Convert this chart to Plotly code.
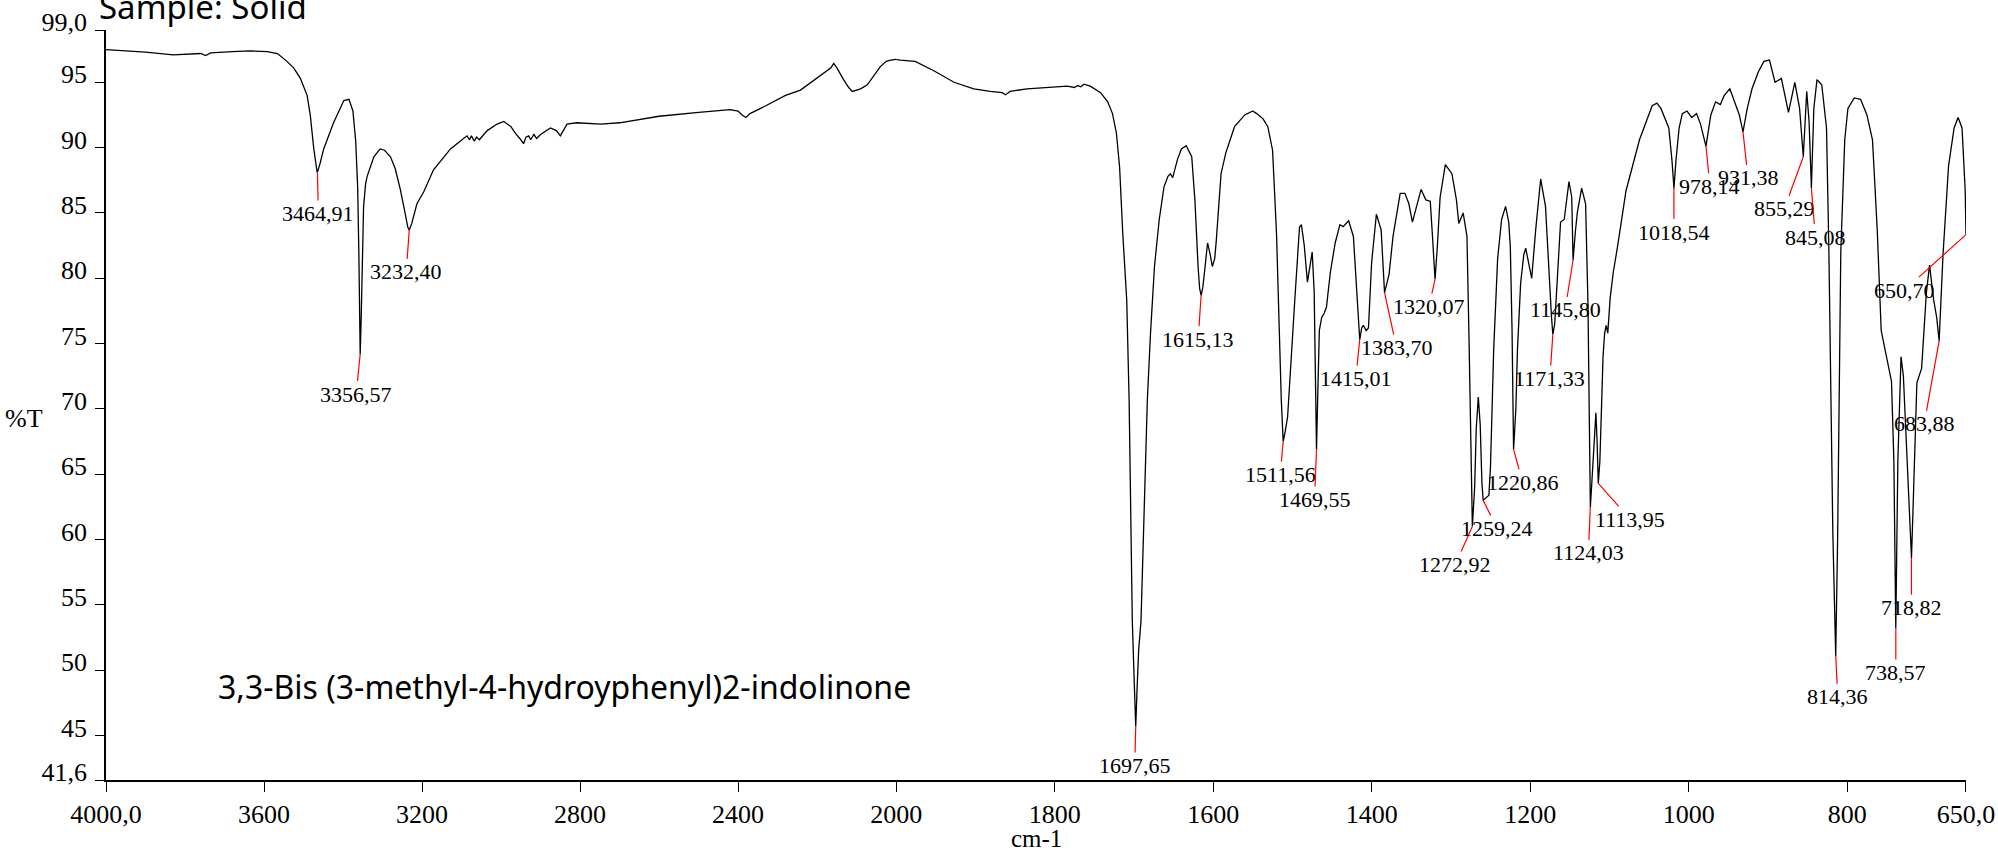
import plotly.graph_objects as go

# ---- spectrum, high-wavenumber part (4000 -> 2000 cm-1) ----
wn_hi = [4000, 3900, 3830, 3760, 3748, 3735, 3680, 3635, 3592, 3566, 3542, 3525, 3508, 3491,
         3483, 3474, 3466, 3464.9, 3458, 3449, 3424, 3398, 3385, 3375, 3368, 3363, 3360,
         3357.5, 3356.6, 3354, 3351, 3348, 3343, 3339, 3322, 3306, 3295, 3280, 3268, 3255,
         3243, 3236, 3232.4, 3226, 3213, 3205, 3196, 3171, 3150, 3128, 3095, 3086, 3080,
         3075, 3068, 3062, 3055, 3035, 3010, 2993, 2975, 2964, 2950, 2943, 2937, 2930, 2925,
         2917, 2910, 2900, 2875, 2860, 2850, 2840, 2833, 2808, 2748, 2700, 2600, 2500, 2420,
         2400, 2390, 2380, 2370, 2330, 2280, 2242, 2200, 2175, 2165, 2158, 2150, 2133, 2120,
         2111, 2100, 2090, 2073, 2055, 2040, 2025, 2014, 2000]
t_hi = [97.5, 97.3, 97.1, 97.2, 97.05, 97.25, 97.35, 97.4, 97.35, 97.2, 96.6, 96.1, 95.3, 94.0,
        92.5, 89.9, 88.2, 88.1, 88.8, 89.9, 91.9, 93.6, 93.7, 92.8, 90.5, 87.0, 82.0,
        76.0, 74.2, 77.0, 82.0, 85.5, 87.2, 87.8, 89.3, 89.9, 89.8, 89.3, 88.4, 86.8,
        85.0, 83.9, 83.7, 84.2, 85.7, 86.1, 86.6, 88.3, 89.1, 89.9, 90.7, 90.9, 90.6,
        90.9, 90.5, 90.8, 90.6, 91.3, 91.8, 92.0, 91.6, 91.1, 90.6, 90.3, 90.8, 90.9, 90.6,
        91.0, 90.7, 91.0, 91.5, 91.3, 90.9, 91.5, 91.8, 91.9, 91.8, 91.9, 92.4, 92.7, 92.9,
        92.8, 92.5, 92.3, 92.6, 93.2, 94.0, 94.4, 95.3, 95.9, 96.1, 96.45, 96.1, 95.2, 94.6,
        94.3, 94.4, 94.5, 94.8, 95.6, 96.2, 96.6, 96.7, 96.75]

# ---- spectrum, low-wavenumber part (2000 -> 650 cm-1) ----
wn_lo = [2000, 1995, 1976, 1953, 1927, 1902, 1881, 1866, 1862, 1856, 1835, 1800, 1784, 1775,
         1771, 1767, 1763, 1755, 1750, 1742, 1733, 1727, 1722, 1718, 1714, 1709, 1706, 1702,
         1699.5, 1697.65, 1696, 1694, 1691, 1687, 1683, 1679, 1674, 1668, 1662, 1657, 1654,
         1651, 1645, 1640, 1634, 1627, 1623, 1619, 1617, 1615.1, 1613, 1611, 1607, 1604, 1601,
         1598, 1596, 1590, 1584, 1573, 1560, 1550, 1545, 1537, 1531, 1525, 1520, 1514, 1511.6,
         1509, 1506, 1497, 1491, 1488.6, 1485, 1481, 1478, 1475, 1472.5, 1471, 1469.55, 1468,
         1466, 1463, 1460, 1457, 1452, 1446, 1440, 1436, 1429, 1423, 1418, 1416, 1415, 1412.5,
         1410.5, 1407, 1404, 1400, 1394, 1388, 1385.5, 1383.7, 1380, 1378, 1373, 1364, 1358,
         1353, 1348.5, 1343, 1337.6, 1331.6, 1326, 1323, 1320, 1317, 1313.6, 1307, 1298.7,
         1293, 1290, 1284.5, 1279.7, 1277, 1275, 1272.9, 1270, 1268, 1265.4, 1263, 1260.8,
         1259.2, 1252, 1250, 1246, 1241, 1236, 1231, 1227, 1225, 1222.8, 1220.9, 1218, 1216,
         1212, 1208, 1205.6, 1201, 1198, 1193, 1186.7, 1180.6, 1176, 1173, 1171.3, 1169, 1166,
         1161.6, 1157, 1151, 1147.5, 1145.8, 1143, 1140.5, 1135, 1130, 1127, 1125, 1124, 1122,
         1119, 1117, 1115.5, 1114, 1112, 1110, 1108, 1106, 1104, 1102, 1099, 1095, 1090, 1079,
         1062, 1046, 1040, 1035, 1025, 1021, 1018.5, 1016, 1012, 1008, 1002, 996, 990, 985,
         978.1, 972, 966, 960, 955, 948, 942, 936, 931.4, 926, 920, 912, 905, 898, 891, 883,
         874, 866, 860, 855.3, 851, 848, 845.1, 842, 838, 832, 826, 823, 818, 814.4, 812, 808,
         803, 799, 791, 783, 775, 768, 762, 757, 751, 744, 741, 738.6, 736, 732, 729, 724,
         718.8, 717, 712, 706, 700, 696, 691, 687, 683.9, 679, 672, 665, 660, 655, 651, 650]
t_lo = [96.75, 96.7, 96.6, 95.9, 95.0, 94.5, 94.3, 94.2, 94.05, 94.3, 94.5, 94.65, 94.7, 94.6,
        94.75, 94.65, 94.85, 94.7, 94.5, 94.2, 93.5, 92.6, 91.1, 88.5, 83.4, 78.3, 70.7, 53.8,
        49.0, 45.7, 48.5, 51.5, 53.8, 63.0, 70.7, 75.8, 80.9, 84.5, 87.0, 87.8, 88.0,
        87.7, 89.1, 89.9, 90.15, 89.3, 86.0, 80.9, 79.2, 78.7, 79.3, 80.4, 82.7, 81.9, 80.9,
        81.5, 82.9, 88.0, 89.6, 91.6, 92.5, 92.8, 92.6, 92.2, 91.6, 89.8, 83.4, 70.7, 67.5,
        68.3, 69.4, 78.3, 83.9, 84.1, 82.5, 79.7, 80.8, 82.0, 79.0, 74.0, 66.9, 71.0,
        76.0, 77.0, 77.3, 77.8, 80.5, 82.7, 84.1, 83.95, 84.4, 83.2, 78.6, 76.0, 75.3, 76.2,
        76.4, 76.0, 76.2, 81.2, 84.9, 83.7, 80.5, 78.9, 79.8, 80.3, 83.2, 86.5, 86.5,
        85.7, 84.3, 85.6, 86.8, 86.0, 85.9, 83.0, 79.9, 82.5, 86.2, 88.7, 88.0,
        86.0, 84.2, 85.0, 83.2, 75.0, 67.0, 61.0, 64.0, 68.5, 70.9, 68.8, 64.3,
        63.0, 63.4, 65.6, 74.5, 81.5, 84.5, 85.5, 84.3, 82.4, 76.0, 66.9, 70.0, 74.5,
        79.6, 81.8, 82.3, 81.0, 80.0, 83.7, 87.6, 85.5, 79.9, 77.0, 75.7, 76.5, 79.6,
        84.3, 84.5, 87.4, 86.2, 81.4, 83.5, 85.0, 86.9, 85.7, 78.0, 68.0, 62.5, 64.5,
        68.0, 69.7, 67.5, 64.3, 66.0, 70.0, 74.0, 75.8, 76.4, 75.8, 78.5, 80.5, 82.3, 86.7,
        90.6, 93.2, 93.4, 93.0, 91.5, 89.0, 86.9, 89.0, 91.5, 92.6, 92.8, 92.3, 92.6, 91.8,
        90.1, 92.5, 93.5, 93.3, 94.0, 94.5, 93.5, 92.5, 91.2, 93.0, 94.5, 95.8, 96.6, 96.7, 95.0, 95.3,
        92.7, 95.0, 93.0, 89.3, 94.3, 92.0, 86.9, 93.0, 95.2, 94.8, 91.5, 82.0, 60.4, 51.1, 60.0, 82.0,
        90.6, 93.0, 93.8, 93.7, 92.5, 90.6, 83.7, 76.0, 74.2, 72.1, 66.0, 53.2, 66.0, 74.0, 72.5, 66.0,
        58.6, 62.0, 72.0, 73.1, 78.9, 81.0, 78.4, 77.0, 75.2, 81.8, 88.6, 91.5, 92.3, 91.5, 86.7, 83.3]

# ---- labelled peaks ----
peak_wn = [3464.91, 3356.57, 3232.40, 1697.65, 1615.13, 1511.56, 1469.55, 1415.01, 1383.70,
           1320.07, 1272.92, 1259.24, 1220.86, 1171.33, 1145.80, 1124.03, 1113.95, 1018.54,
           978.14, 931.38, 855.29, 845.08, 814.36, 738.57, 718.82, 683.88, 650.70]
peak_t = [88.1, 74.2, 83.7, 45.7, 78.7, 67.5, 66.9, 75.3, 78.9,
          79.9, 61.0, 63.0, 66.9, 75.7, 81.4, 62.5, 64.3, 86.9,
          90.1, 91.2, 89.3, 86.9, 51.1, 53.2, 58.6, 75.2, 83.3]
peak_text = ["3464,91", "3356,57", "3232,40", "1697,65", "1615,13", "1511,56", "1469,55",
             "1415,01", "1383,70", "1320,07", "1272,92", "1259,24", "1220,86", "1171,33",
             "1145,80", "1124,03", "1113,95", "1018,54", "978,14", "931,38", "855,29",
             "845,08", "814,36", "738,57", "718,82", "683,88", "650,70"]
label_dx = [1, -4, -3, -1, -3, -3, -2, -4, 12, -6, -17, 14, 9, -3, -8, -2, 32, 0, 4, 5, -19, 4, 2, 0, 0, -15, -61]
label_dy = [41, 40, 42, 39, 44, 33, 50, 39, 55, 27, 38, 28, 33, 44, 50, 46, 36, 44, 40, 46, 52, 49, 41, 44, 50, 83, 55]

# ---- axes ----
xtick_hi = [4000, 3600, 3200, 2800, 2400]
xtick_hi_text = ["4000,0", "3600", "3200", "2800", "2400"]
xtick_lo = [2000, 1800, 1600, 1400, 1200, 1000, 800, 650]
xtick_lo_text = ["2000", "1800", "1600", "1400", "1200", "1000", "800", "650,0"]
ytick_vals = [41.6, 45, 50, 55, 60, 65, 70, 75, 80, 85, 90, 95, 99.0]
ytick_text = ["41,6", "45", "50", "55", "60", "65", "70", "75", "80", "85", "90", "95", "99,0"]

SERIF = "Liberation Serif"
SPLIT = 0.4248

fig = go.Figure()
fig.add_trace(go.Scatter(x=wn_hi, y=t_hi, mode="lines", line=dict(color="black", width=1.3),
                         xaxis="x", yaxis="y", hoverinfo="skip", showlegend=False))
fig.add_trace(go.Scatter(x=wn_lo, y=t_lo, mode="lines", line=dict(color="black", width=1.3),
                         xaxis="x2", yaxis="y", hoverinfo="skip", showlegend=False))

annotations = []
for w, t, s, dx, dy in zip(peak_wn, peak_t, peak_text, label_dx, label_dy):
    annotations.append(dict(
        x=w, y=t, xref="x" if w > 2000 else "x2", yref="y", text=s,
        showarrow=True, arrowhead=0, arrowwidth=1.2, arrowcolor="#ff0000",
        ax=dx, ay=dy, standoff=0, borderpad=0,
        font=dict(family=SERIF, size=22, color="black")))

annotations += [
    dict(text="%T", xref="paper", yref="paper", x=-0.044, y=0.482, xanchor="center",
         yanchor="middle", showarrow=False,
         font=dict(family=SERIF, size=26, color="black")),
    dict(text="cm-1", xref="paper", yref="paper", x=0.5, y=-0.078, xanchor="center",
         yanchor="middle", showarrow=False,
         font=dict(family=SERIF, size=25, color="black")),
    dict(text="Sample: Solid", xref="paper", yref="paper", x=-0.005, y=0.998,
         xanchor="left", yanchor="bottom", showarrow=False,
         font=dict(family="Noto Sans", size=33, color="black")),
    dict(text="3,3-Bis (3-methyl-4-hydroyphenyl)2-indolinone", xref="paper", yref="paper",
         x=0.2465, y=0.125, xanchor="center", yanchor="middle", showarrow=False,
         font=dict(family="Noto Sans", size=32, color="black")),
]

axis_common = dict(showline=True, linecolor="black", linewidth=1.5, ticks="outside",
                   ticklen=10, tickwidth=1.2, tickcolor="black", showgrid=False,
                   zeroline=False, automargin=False, ticklabelstandoff=0,
                   tickfont=dict(family=SERIF, size=26, color="black"))

fig.update_layout(
    width=1998, height=854, autosize=False,
    margin=dict(l=106, r=32, t=30, b=74),
    paper_bgcolor="white", plot_bgcolor="white",
    xaxis=dict(domain=[0, SPLIT], range=[4000, 2000], tickvals=xtick_hi,
               ticktext=xtick_hi_text, anchor="y", **axis_common),
    xaxis2=dict(domain=[SPLIT, 1], range=[2000, 650], tickvals=xtick_lo,
                ticktext=xtick_lo_text, anchor="y", **axis_common),
    # y axis carrying the labels (no tick marks, so labels sit close to the line)
    yaxis=dict(range=[41.6, 99.0], tickvals=ytick_vals, ticktext=ytick_text, anchor="x",
               showline=True, linecolor="black", linewidth=1.5, ticks="",
               showgrid=False, zeroline=False, automargin=False,
               ticklabelshift=-8, ticklabelstandoff=12,
               tickfont=dict(family=SERIF, size=26, color="black")),
    # overlay y axis drawing the outside tick marks only
    yaxis2=dict(range=[41.6, 99.0], tickvals=ytick_vals, overlaying="y", anchor="x",
                side="left", showline=False, ticks="outside", ticklen=10, tickwidth=1.2,
                tickcolor="black", showticklabels=False, showgrid=False, zeroline=False,
                automargin=False),
    annotations=annotations,
    showlegend=False,
)
# invisible trace so the tick-mark axis is drawn
fig.add_trace(go.Scatter(x=[wn_hi[0]], y=[t_hi[0]], mode="lines", xaxis="x", yaxis="y2",
                         line=dict(width=0), hoverinfo="skip", showlegend=False))

fig.write_html(
    "out.html",
    config={"displayModeBar": False, "responsive": False},
    post_script=("document.body.style.margin='0';document.body.style.padding='0';"
                 "document.body.style.overflow='hidden';"
                 "document.documentElement.style.overflow='hidden';"),
)
